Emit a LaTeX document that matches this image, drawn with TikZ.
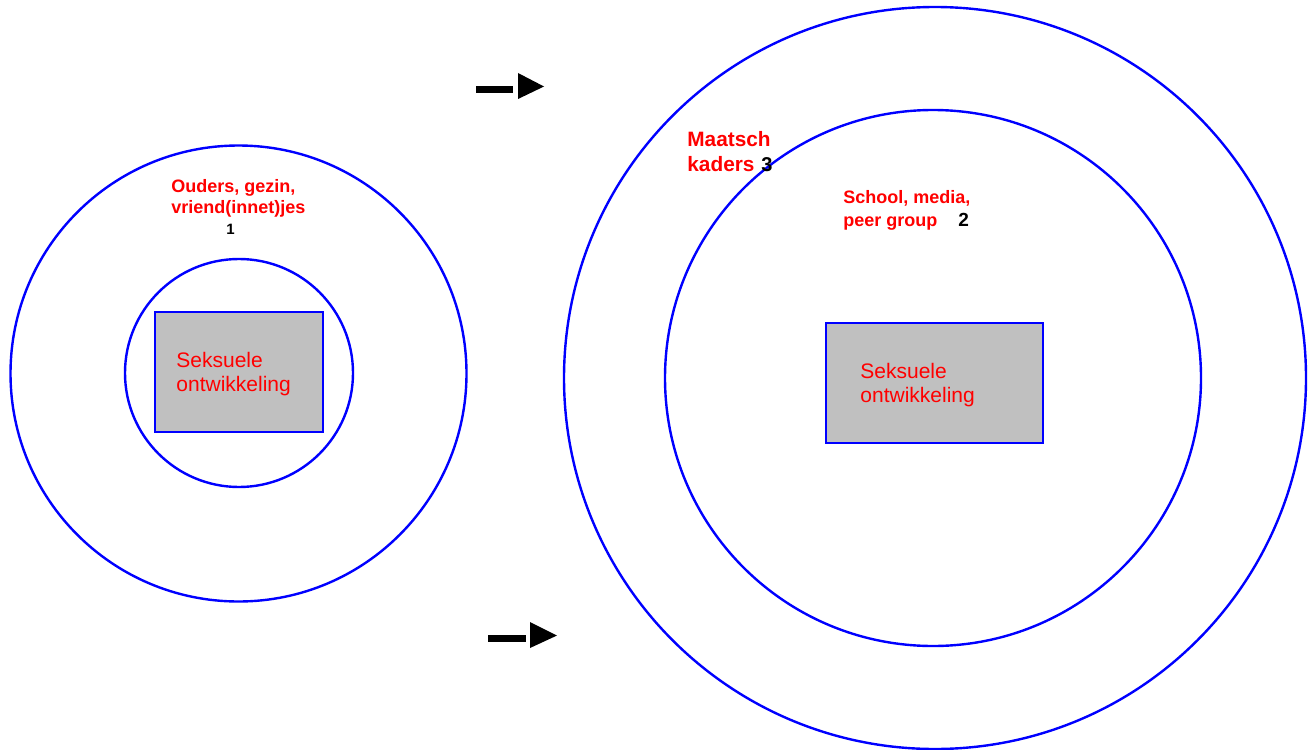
\documentclass[tikz,border=0pt]{standalone}
\usepackage{fontspec}
\setmainfont{Liberation Sans}
\definecolor{ringblue}{RGB}{0,0,255}
\definecolor{txtred}{RGB}{255,0,0}
\definecolor{boxgray}{RGB}{192,192,192}
\begin{document}
\begin{tikzpicture}[x=0.5pt,y=-0.5pt,
  ring/.style={circle,draw=ringblue,line width=1.2pt,inner sep=0pt},
  corebox/.style={rectangle,draw=ringblue,fill=boxgray,line width=1.3pt,inner sep=0pt},
  lbl/.style={anchor=base west,inner sep=0pt,text=txtred},
  num/.style={anchor=base west,inner sep=0pt,text=black,font=\bfseries}]
\useasboundingbox (0,0) rectangle (1315,749);
\fill[white] (0,0) rectangle (1315,749);
% left group
\node[ring,minimum size=228pt] (lo) at (238.5,373.5) {};
\node[ring,minimum size=114pt] (li) at (239,373) {};
\node[corebox,minimum width=84pt,minimum height=60pt] (lb) at (239,372) {};
\node[lbl,font=\fontsize{10.5}{12}\selectfont] (lt1) at (176,367) {Seksuele};
\node[lbl,font=\fontsize{10.5}{12}\selectfont] (lt2) at (176,391) {ontwikkeling};
\node[lbl,font=\fontsize{9}{10.5}\selectfont\bfseries] (o1) at (171,192) {Ouders, gezin,};
\node[lbl,font=\fontsize{9}{10.5}\selectfont\bfseries] (o2) at (171,213) {vriend(innet)jes};
\node[num,font=\fontsize{7.5}{8}\selectfont\bfseries] (n1) at (226,234) {1};
% right group
\node[ring,minimum size=371pt] (ro) at (935,378) {};
\node[ring,minimum size=268pt] (ri) at (933,378) {};
\node[corebox,minimum width=108.5pt,minimum height=60pt] (rb) at (934.5,383) {};
\node[lbl,font=\fontsize{10.5}{12}\selectfont] (rt1) at (860,378) {Seksuele};
\node[lbl,font=\fontsize{10.5}{12}\selectfont] (rt2) at (860,402) {ontwikkeling};
\node[lbl,font=\fontsize{10.4}{12}\selectfont\bfseries] (m1) at (687,147) {Maatsch};
\node[lbl,font=\fontsize{10.4}{12}\selectfont\bfseries] (m2) at (687,171) {kaders};
\node[num,font=\fontsize{10}{12}\selectfont\bfseries] (n3) at (761,171) {3};
\node[lbl,font=\fontsize{9}{11}\selectfont\bfseries] (s1) at (843,203) {School, media,};
\node[lbl,font=\fontsize{9}{11}\selectfont\bfseries] (s2) at (843,226) {peer group};
\node[num,font=\fontsize{9.5}{11}\selectfont\bfseries] (n2) at (958,226) {2};
% arrows
\fill[black] (476,86) rectangle (513,93);
\fill[black] (518,73) -- (544,86.5) -- (518,99) -- cycle;
\fill[black] (488,635) rectangle (526,642);
\fill[black] (530,622) -- (557,635.5) -- (530,648) -- cycle;
\end{tikzpicture}
\end{document}
